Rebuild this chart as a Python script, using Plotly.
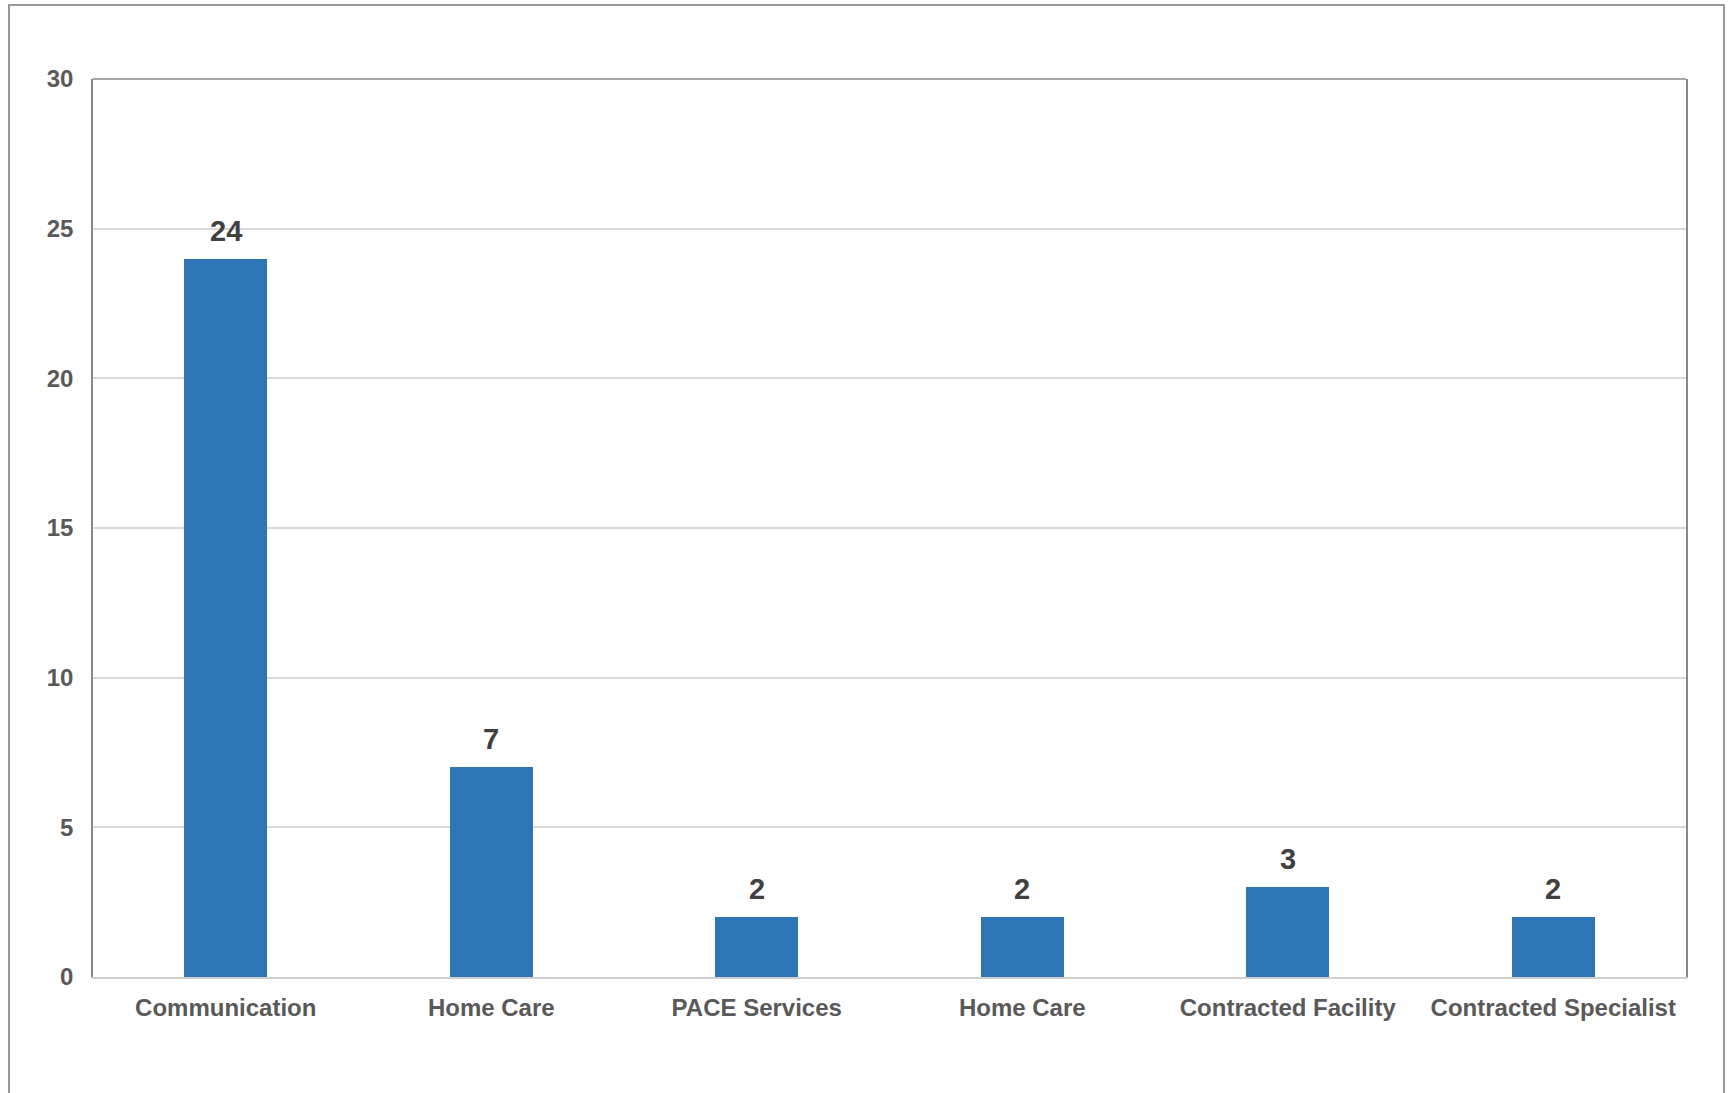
import plotly.graph_objects as go

categories = ["Communication", "Home Care", "PACE Services", "Home Care", "Contracted Facility", "Contracted Specialist"]
values = [24, 7, 2, 2, 3, 2]
positions = list(range(len(categories)))
y_ticks = [0, 5, 10, 15, 20, 25, 30]

W, H = 1728, 1093
ML, MR, MT, MB = 93, 42, 79, 116
pw, ph = W - ML - MR, H - MT - MB

fig = go.Figure()
fig.add_trace(go.Bar(
    x=positions, y=values, width=0.313,
    marker=dict(color="#2E75B6", line=dict(width=0)),
    hoverinfo="skip",
))

for xv, yv in zip(positions, values):
    fig.add_annotation(x=xv, y=yv, text=str(yv), showarrow=False,
                       yanchor="bottom", yshift=10,
                       font=dict(family="Arial, Liberation Sans", size=29, color="#404040", weight="bold"))

# outer border
fig.add_shape(type="rect", xref="paper", yref="paper",
              x0=(9 - ML) / pw, x1=(1724 - ML) / pw,
              y0=(MT + ph - 1110) / ph, y1=(MT + ph - 5) / ph,
              line=dict(color="#999999", width=2), layer="below")
# top border of plot area
fig.add_shape(type="line", xref="paper", yref="paper", x0=0, x1=1, y0=1, y1=1,
              line=dict(color="#888888", width=1.5))

fig.update_layout(
    width=W, height=H,
    margin=dict(l=ML, r=MR, t=MT, b=MB, pad=0),
    paper_bgcolor="white", plot_bgcolor="white",
    showlegend=False, bargap=0,
    font=dict(family="Arial, Liberation Sans", color="#595959"),
)
fig.update_xaxes(
    range=[-0.5, len(categories) - 0.5],
    tickmode="array", tickvals=positions, ticktext=categories,
    tickfont=dict(size=24, color="#595959", weight="bold"),
    showline=True, linecolor="#d0d0d0", linewidth=2,
    showgrid=False, zeroline=False, ticks="", ticklabelstandoff=8,
)
fig.update_yaxes(
    range=[0, 30], tickmode="array", tickvals=y_ticks,
    tickfont=dict(size=24, color="#595959", weight="bold"),
    showline=True, mirror=True, linecolor="#888888", linewidth=1.5,
    showgrid=True, gridcolor="#d9d9d9", gridwidth=1.5,
    zeroline=False, ticks="", ticklabelstandoff=13,
)

fig.write_html("out.html")
